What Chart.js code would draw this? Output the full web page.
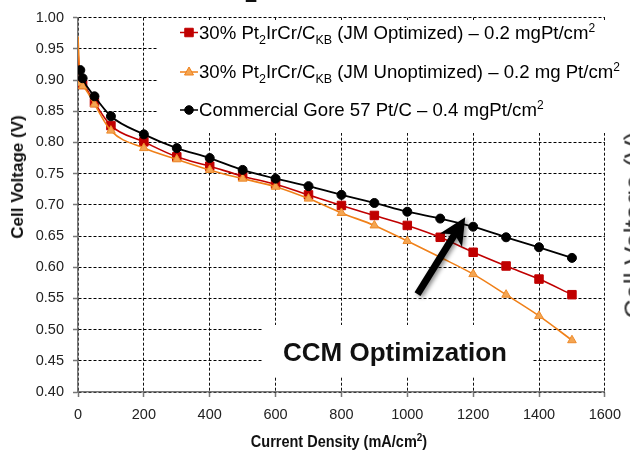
<!DOCTYPE html>
<html><head><meta charset="utf-8">
<script src="https://cdn.jsdelivr.net/npm/chart.js@4/dist/chart.umd.min.js"></script>
<style>
html,body{margin:0;padding:0;background:#fff;}
#wrap{position:relative;width:630px;height:453px;overflow:hidden;font-family:'Liberation Sans',Arial,sans-serif;}
canvas{position:absolute;left:0;top:0;}
.t{position:absolute;white-space:nowrap;color:#000;}
.leg{font-size:18.6px;line-height:20px;left:199px;}
.sub{font-size:12.5px;position:relative;top:5px;}
.sup{font-size:12px;position:relative;top:-7px;}
.ttl{font-weight:bold;color:#111;}
</style></head><body>
<div id="wrap">
<canvas id="c" width="630" height="453"></canvas>
<div class="t leg" style="top:23px">30% Pt<span class="sub">2</span>IrCr/C<span class="sub">KB</span> (JM Optimized) – 0.2 mgPt/cm<span class="sup">2</span></div>
<div class="t leg" style="top:62px">30% Pt<span class="sub">2</span>IrCr/C<span class="sub">KB</span> (JM Unoptimized) – 0.2 mg Pt/cm<span class="sup">2</span></div>
<div class="t leg" style="top:100px">Commercial Gore 57 Pt/C – 0.4 mgPt/cm<span class="sup">2</span></div>
<div class="t ttl" style="left:395px;top:352px;font-size:26px;line-height:30px;transform:translate(-50%,-50%);">CCM Optimization</div>
<div class="t ttl" style="left:339px;top:442px;font-size:14.5px;line-height:16px;transform:translate(-50%,-50%) scaleY(1.15);">Current Density (mA/cm<span style="font-size:10px;position:relative;top:-5px;">2</span>)</div>
<div class="t ttl" style="left:18px;top:177px;font-size:17px;line-height:18px;transform:translate(-50%,-50%) rotate(-90deg);">Cell Voltage (V)</div>
<div class="t" style="left:635px;top:225px;font-size:27px;line-height:27px;color:#333;transform:translate(-50%,-50%) rotate(-90deg);">Cell Voltage (V)</div>
<div class="t ttl" style="left:245px;top:-16px;font-size:22px;line-height:22px;">2</div>
</div>
<script>
// ---- data ----
const currentDensity = [0, 7, 14, 50, 100, 200, 300, 400, 500, 600, 700, 800, 900, 1000, 1100, 1200, 1300, 1400, 1500];
const jmOptimized   = [0.945, 0.897, 0.893, 0.864, 0.827, 0.801, 0.777, 0.762, 0.746, 0.733, 0.716, 0.699, 0.683, 0.667, 0.648, 0.624, 0.602, 0.581, 0.556];
const jmUnoptimized = [0.970, 0.895, 0.890, 0.861, 0.819, 0.791, 0.773, 0.756, 0.742, 0.729, 0.710, 0.687, 0.667, 0.642, 0.616, 0.589, 0.556, 0.522, 0.483];
const goreCommercial = [null, 0.916, 0.903, 0.874, 0.842, 0.813, 0.791, 0.775, 0.756, 0.742, 0.730, 0.716, 0.703, 0.689, 0.678, 0.665, 0.648, 0.632, 0.615];
const seriesLabels = [
  '30% Pt2IrCr/CKB (JM Optimized) – 0.2 mgPt/cm²',
  '30% Pt2IrCr/CKB (JM Unoptimized) – 0.2 mg Pt/cm²',
  'Commercial Gore 57 Pt/C – 0.4 mgPt/cm²'
];
const xTicks = [0, 200, 400, 600, 800, 1000, 1200, 1400, 1600];
const yTicks = [0.40, 0.45, 0.50, 0.55, 0.60, 0.65, 0.70, 0.75, 0.80, 0.85, 0.90, 0.95, 1.00];
const arrowFrom = [1031, 0.557];
const arrowTo = [1176, 0.680];

function pts(vals){ return currentDensity.map((x,i)=>({x:x,y:vals[i]})).filter(p=>p.y!==null); }
const hideZero = (r) => (c) => (c.raw && c.raw.x === 0) ? 0 : r;

const overlay = {
  id:'overlay',
  beforeDatasetsDraw(chart){
    const ctx = chart.ctx;
    ctx.save();
    ctx.fillStyle = '#fff';
    ctx.fillRect(158, 20, 472, 113);
    ctx.fillRect(262, 325, 271, 52);
    ctx.restore();
  },
  afterDraw(chart){
    const ctx = chart.ctx;
    const xs = chart.scales.x, ys = chart.scales.y;
    ctx.save();
    const rows = [
      {y:32.5, c:'#c00000', f:'#c00000', s:'rect'},
      {y:72, c:'#f08019', f:'#f4a552', s:'tri'},
      {y:110, c:'#000', f:'#000', s:'circ'}
    ];
    rows.forEach(r=>{
      ctx.strokeStyle = r.c; ctx.lineWidth = 1.5;
      ctx.beginPath(); ctx.moveTo(180, r.y); ctx.lineTo(198, r.y); ctx.stroke();
      ctx.fillStyle = r.f; ctx.strokeStyle = r.c; ctx.lineWidth = 1;
      ctx.beginPath();
      if (r.s==='rect') ctx.rect(189-4.25, r.y-4.25, 8.5, 8.5);
      else if (r.s==='tri'){ ctx.moveTo(189, r.y-5); ctx.lineTo(193.5, r.y+3); ctx.lineTo(184.5, r.y+3); ctx.closePath(); }
      else ctx.arc(189, r.y, 4.3, 0, Math.PI*2);
      ctx.fill(); ctx.stroke();
    });
    const x0 = xs.getPixelForValue(arrowFrom[0]), y0 = ys.getPixelForValue(arrowFrom[1]);
    const x1 = xs.getPixelForValue(arrowTo[0]), y1 = ys.getPixelForValue(arrowTo[1]);
    const dx = x1-x0, dy = y1-y0, L = Math.hypot(dx,dy), ux = dx/L, uy = dy/L, px = -uy, py = ux;
    ctx.shadowColor = 'rgba(0,0,0,0.45)'; ctx.shadowBlur = 4; ctx.shadowOffsetX = 2; ctx.shadowOffsetY = 2;
    ctx.strokeStyle = '#000'; ctx.fillStyle = '#000'; ctx.lineWidth = 7; ctx.lineCap = 'butt';
    ctx.beginPath(); ctx.moveTo(x0,y0); ctx.lineTo(x1-ux*18, y1-uy*18); ctx.stroke();
    ctx.beginPath();
    ctx.moveTo(x1,y1);
    ctx.lineTo(x1-ux*27+px*13, y1-uy*27+py*13);
    ctx.lineTo(x1-ux*20, y1-uy*20);
    ctx.lineTo(x1-ux*27-px*13, y1-uy*27-py*13);
    ctx.closePath(); ctx.fill();
    ctx.restore();
  }
};

new Chart(document.getElementById('c'), {
  type:'line',
  data:{datasets:[
    {label:seriesLabels[0], data:pts(jmOptimized), order:2, borderColor:'#c00000', backgroundColor:'#c00000',
     pointStyle:'rect', pointRadius:hideZero(6), pointBorderWidth:1, borderWidth:1.6, cubicInterpolationMode:'monotone'},
    {label:seriesLabels[1], data:pts(jmUnoptimized), order:1, borderColor:'#f08019', backgroundColor:'#f4a552', pointBorderColor:'#ee8a2a',
     pointStyle:'triangle', pointRadius:hideZero(5), pointBorderWidth:1, borderWidth:1.6, cubicInterpolationMode:'monotone'},
    {label:seriesLabels[2], data:pts(goreCommercial), order:0, borderColor:'#000', backgroundColor:'#000',
     pointStyle:'circle', pointRadius:hideZero(4.5), pointBorderWidth:1, borderWidth:1.8, cubicInterpolationMode:'monotone'}
  ]},
  options:{
    responsive:false, animation:false, devicePixelRatio:1,
    layout:{padding:{left:0,right:19,top:10,bottom:0}},
    plugins:{legend:{display:false}, tooltip:{enabled:false}},
    scales:{
      x:{type:'linear', min:xTicks[0], max:xTicks[xTicks.length-1],
         afterBuildTicks(s){ s.ticks = xTicks.map(v=>({value:v})); },
         afterFit(s){ s.height = 61; },
         ticks:{color:'#222', font:{family:"'Liberation Sans', Arial, sans-serif", size:14.5}, padding:9, maxRotation:0, autoSkip:false,
                callback:(v)=>String(v)},
         grid:{color:'#111', lineWidth:1, tickLength:5, tickColor:'#777', tickWidth:1.5},
         border:{display:true, color:'#777', width:1.5, dash:[3,2]}},
      y:{type:'linear', min:yTicks[0], max:yTicks[yTicks.length-1],
         afterBuildTicks(s){ s.ticks = yTicks.map(v=>({value:v})); },
         afterFit(s){ s.width = 78; },
         ticks:{color:'#222', font:{family:"'Liberation Sans', Arial, sans-serif", size:14.5}, padding:9, autoSkip:false,
                callback:(v)=>Number(v).toFixed(2)},
         grid:{color:'#000', lineWidth:1, tickLength:5, tickColor:'#777', tickWidth:1.5},
         border:{display:true, color:'#777', width:1.5, dash:[3,2]}}
    }
  },
  plugins:[overlay]
});
</script>
</body></html>
